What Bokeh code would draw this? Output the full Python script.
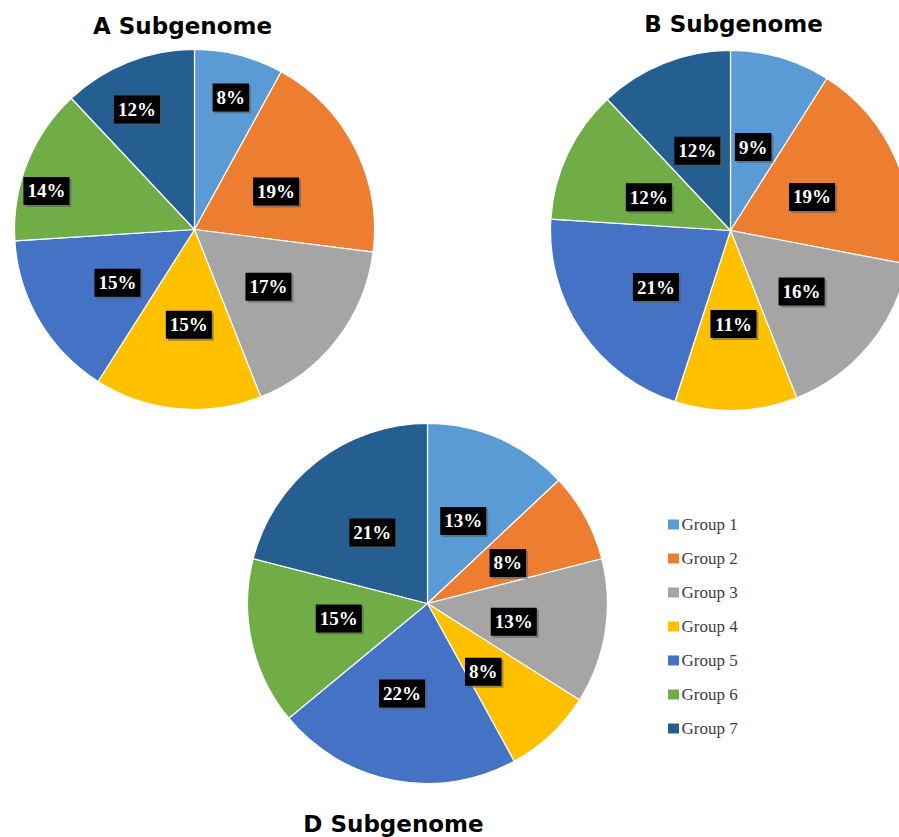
import math

from bokeh.core.properties import value
from bokeh.embed import file_html
from bokeh.models import ColumnDataSource, Range1d
from bokeh.plotting import figure
from bokeh.resources import INLINE

# ---- data -------------------------------------------------------------
groups = ["Group 1", "Group 2", "Group 3", "Group 4", "Group 5", "Group 6", "Group 7"]
colors = ["#5B9BD5", "#ED7D31", "#A5A5A5", "#FFC000", "#4472C4", "#70AD47", "#255E91"]

a_share = [8, 19, 17, 15, 15, 14, 12]
b_share = [9, 19, 16, 11, 21, 12, 12]
d_share = [13, 8, 13, 8, 22, 15, 21]

titles = ["A Subgenome", "B Subgenome", "D Subgenome"]

# ---- layout (page pixels, y measured from the top) --------------------
W, H = 899, 837
R = 180
pie_centers = [(194, 229), (730, 230), (427, 603)]
title_pos = [(182, 25), (733, 23), (393, 823)]

# label placement: fraction of radius and small angular nudge (deg, clockwise)
label_frac = [
    [0.76, 0.50, 0.52, 0.53, 0.52, 0.85, 0.74],
    [0.48, 0.49, 0.52, 0.52, 0.52, 0.49, 0.48],
    [0.50, 0.50, 0.49, 0.49, 0.52, 0.50, 0.50],
]
label_nudge = [
    [1, 2, 0, -2, -4, -7, -4],
    [-1, 1, 1, 0, -3, -3, -1],
    [0, 2, 3, 4, 5, 3, 0],
]

p = figure(width=W, height=H, output_backend="svg", toolbar_location=None,
           x_range=Range1d(0, W), y_range=Range1d(0, H),
           x_axis_type=None, y_axis_type=None, min_border=0,
           background_fill_color="white", border_fill_color="white")
p.outline_line_color = None
p.grid.visible = False

serif = value("Liberation Serif")

for k, share in enumerate([a_share, b_share, d_share]):
    cx, cy_top = pie_centers[k]
    cy = H - cy_top
    total = float(sum(share))
    cum = [0.0]
    for s in share:
        cum.append(cum[-1] + s / total)

    starts, ends = [], []
    lx, ly, lab, bw = [], [], [], []
    for i in range(len(share)):
        a0 = math.pi / 2 - 2 * math.pi * cum[i]
        a1 = math.pi / 2 - 2 * math.pi * cum[i + 1]
        starts.append(a1)
        ends.append(a0)
        mid = (cum[i] + cum[i + 1]) / 2
        t = math.pi / 2 - 2 * math.pi * mid - math.radians(label_nudge[k][i])
        f = label_frac[k][i] * R
        lx.append(cx + f * math.cos(t))
        ly.append(cy + f * math.sin(t))
        txt = f"{share[i]}%"
        lab.append(txt)
        bw.append(9.5 * (len(txt) - 1) + 19 + 8)

    src = ColumnDataSource(dict(start=starts, end=ends, color=colors))
    p.wedge(x=cx, y=cy, radius=R, start_angle="start", end_angle="end",
            direction="anticlock", fill_color="color", line_color="white",
            line_width=1.2, source=src)

    lsrc = ColumnDataSource(dict(x=lx, y=ly, text=lab, w=bw,
                                 sx=[v + 2 for v in lx], sy=[v - 2 for v in ly]))
    p.rect(x="sx", y="sy", width="w", height=28, source=lsrc,
           fill_color="#5a5a5a", fill_alpha=0.55, line_color=None)
    p.rect(x="x", y="y", width="w", height=28, source=lsrc,
           fill_color="black", line_color=None)
    p.text(x="x", y="y", text="text", source=lsrc, text_color="white",
           text_font=serif, text_font_style="bold", text_font_size="19px",
           text_align="center", text_baseline="middle")

    tx, ty = title_pos[k]
    p.text(x=[tx], y=[H - ty], text=[titles[k]], text_font=value("DejaVu Sans"),
           text_font_style="bold", text_font_size="23px", text_color="black",
           text_align="center", text_baseline="middle")

# ---- legend ----------------------------------------------------------
leg_y = [H - (524 + 34 * i) for i in range(len(groups))]
p.rect(x=[673] * len(groups), y=leg_y, width=11, height=10,
       fill_color=colors, line_color=None)
p.text(x=[681] * len(groups), y=leg_y, text=groups, text_font=serif,
       text_font_size="17px", text_color="#404040",
       text_align="left", text_baseline="middle")

open("out.html", "w").write(file_html(p, INLINE))
